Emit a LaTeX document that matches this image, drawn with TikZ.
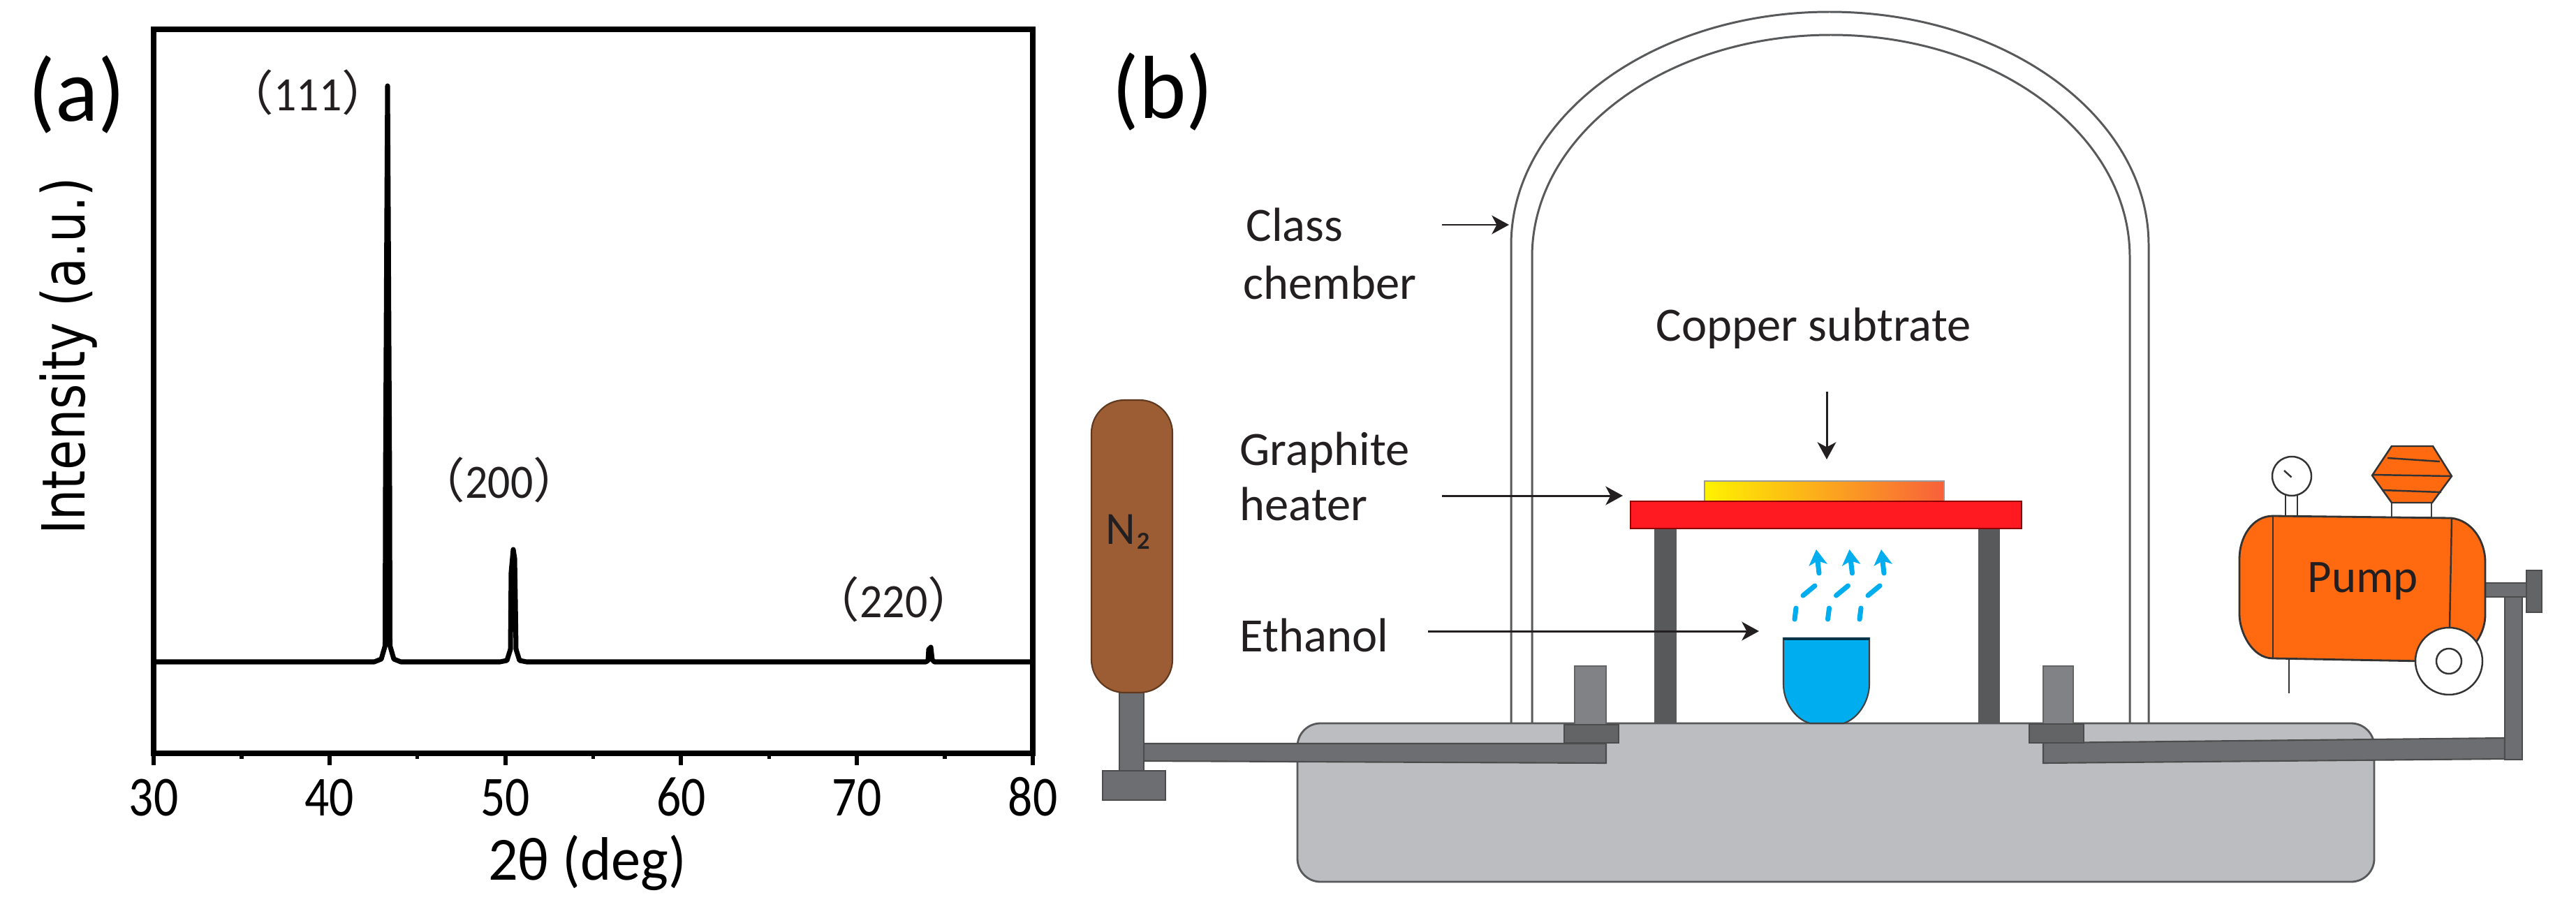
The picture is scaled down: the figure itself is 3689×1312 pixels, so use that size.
\documentclass[tikz,border=0pt]{standalone}
\usepackage{fontspec}
\usepackage{graphicx}
\setmainfont{Carlito}
\newfontfamily\cjk{Noto Sans CJK SC}
\newfontfamily\wideface{DejaVu Sans}
\usetikzlibrary{arrows.meta,shadings}
\definecolor{ink}{HTML}{231F20}
\definecolor{lineg}{HTML}{58595B}
\definecolor{baseg}{HTML}{BCBDC0}
\definecolor{pipeg}{HTML}{6D6E71}
\definecolor{postg}{HTML}{808285}
\definecolor{flangeg}{HTML}{636466}
\definecolor{legg}{HTML}{58595B}
\definecolor{tankbr}{HTML}{9C5D34}
\definecolor{pumpor}{HTML}{FF6A10}
\definecolor{heatred}{HTML}{FF1A22}
\definecolor{alcohol}{HTML}{00AEEF}
\definecolor{subl}{HTML}{FFF200}
\definecolor{subm}{HTML}{FF9A28}
\definecolor{subr}{HTML}{F8603A}
\newcommand{\squeeze}[2]{\scalebox{#1}[1]{#2}}
\begin{document}
\begin{tikzpicture}[
    x=0.01cm, y=-0.01cm,
    % plot
    frame/.style={line width=2.4pt, black},
    trace/.style={line width=2pt, black, line join=round},
    majortick/.style={line width=1.7pt, black},
    minortick/.style={line width=1.5pt, black},
    ticklab/.style={anchor=base, inner sep=0pt, black, font=\fontsize{23}{23}\selectfont},
    peaklab/.style={inner sep=0pt, ink, font=\fontsize{19.5}{20}\selectfont},
    panel/.style={inner sep=0pt, black, font=\fontsize{36.5}{38}\selectfont},
    % rig
    lab/.style={anchor=base west, inner sep=0pt, ink, font=\fontsize{19.5}{21}\selectfont},
    leader/.style={line width=0.85pt, ink, -{Stealth[length=7pt,width=7.6pt,inset=2pt]}},
    dome/.style={line width=0.85pt, lineg},
    pipe/.style={fill=pipeg, draw=black!70, line width=0.6pt},
    post/.style={fill=postg, draw=flangeg, line width=0.5pt},
    flange/.style={fill=flangeg, draw=black!70, line width=0.6pt},
    leg/.style={fill=legg, draw=legg, line width=0.4pt},
    vapor/.style={line width=2pt, alcohol, line cap=round},
    vaporup/.style={vapor, -{Stealth[length=6.3pt,width=7.4pt,inset=1.6pt]}},
    pumpline/.style={line width=0.7pt, black!80},
]
\useasboundingbox (0,0) rectangle (3689,1312);

% (a) XRD plot
\draw[frame] (220,42) rectangle (1479,1079);
\foreach \t in {0,...,5}
    \draw[majortick] (220+251.8*\t,1079) -- (220+251.8*\t,1096);
\foreach \t in {0,...,4}
    \draw[minortick] (345.9+251.8*\t,1079) -- (345.9+251.8*\t,1087);
\foreach \v/\t in {30/0,40/1,50/2,60/3,70/4,80/5}
    \node[ticklab] (tick\v) at (220+251.8*\t,1168) {\squeeze{.86}{\v}};
\node[anchor=base, inner sep=0pt, black, font=\fontsize{25}{25}\selectfont] (xlab) at (841,1260) {\squeeze{.96}{2θ (deg)}};
\node[anchor=base, inner sep=0pt, rotate=90, black, font=\wideface\fontsize{24.2}{25}\selectfont] (ylab) at (121,510) {\squeeze{.82}{Intensity (a.u.)}};

\draw[trace] (220,948) -- (536,948) -- (546,944) -- (551.5,925) -- (552,700) -- (554,300) -- (555,123)
    -- (556,300) -- (558,700) -- (558.5,925) -- (564,944) -- (574,948)
    -- (716,948) -- (726,946) -- (731,930) -- (732,820) -- (735,787) -- (737,800) -- (738,860) -- (739,930) -- (744,946) -- (754,948)
    -- (1326,948) -- (1329,946) -- (1330,930) -- (1333,927) -- (1335,945) -- (1338,948) -- (1479,948);

\node[peaklab] (p111) at (441,132) {{\cjk （}\squeeze{.93}{111}{\cjk ）}};
\node[peaklab] (p200) at (715,687) {{\cjk （}\squeeze{.93}{200}{\cjk ）}};
\node[peaklab] (p220) at (1280,858) {{\cjk （}\squeeze{.93}{220}{\cjk ）}};
\node[panel] (pa) at (110,135) {(a)};
\node[panel] (pb) at (1665,131) {(b)};

% (b) chamber
\draw[dome] (2164,1036) -- (2164,351) .. controls (2164,167) and (2368,17) .. (2620,17)
    .. controls (2872,17) and (3077,167) .. (3077,351) -- (3077,1036);
\draw[dome] (2194,1036) -- (2194,368) .. controls (2194,192) and (2386,50) .. (2622,50)
    .. controls (2858,50) and (3050,192) .. (3050,368) -- (3050,1036);

\draw[fill=baseg, draw=lineg, line width=0.8pt, rounded corners=3.3mm] (1858,1036) rectangle (3400,1263);

% left feed
\draw[post] (2255,954) rectangle (2300,1040);
\draw[pipe] (1638,1065) -- (2300,1065) -- (2300,1093) -- (1638,1090) -- cycle;
\draw[flange] (2240,1038) rectangle (2318,1064);
\draw[fill=pipeg, draw=black!70, line width=0.5pt] (1603,990) rectangle (1638,1104);
\draw[pipe] (1579,1104) rectangle (1669,1146);
\draw[fill=tankbr, draw=tankbr!60!black, line width=0.6pt, rounded corners=4.7mm] (1563,573) rectangle (1679,992);
\node[inner sep=0pt, ink, font=\fontsize{18.8}{20}\selectfont] (n2) at (1616,762) {N₂};

% right feed
\draw[post] (2926,954) rectangle (2969,1040);
\draw[pipe] (2926,1064) -- (3587,1057) -- (3587,1087) -- (2926,1093) -- cycle;
\draw[flange] (2906,1037) rectangle (2984,1064);
\draw[pipe] (3559,835) rectangle (3618,855);
\draw[pipe] (3587,855) rectangle (3612,1088);
\draw[flange] (3618,817) rectangle (3640,877);

% stand and heater
\draw[leg] (2370,757) rectangle (2400,1036);
\draw[leg] (2834,757) rectangle (2863,1036);
\draw[draw=black!40, line width=0.5pt, left color=subl, middle color=subm, right color=subr] (2441,689) rectangle (2784,718);
\draw[fill=heatred, draw=red!55!black, line width=0.5pt] (2335,718) rectangle (2895,757);

% ethanol cup
\draw[fill=alcohol, draw=black!75, line width=0.6pt] (2554,914) -- (2554,980)
    .. controls (2554,1005) and (2570,1030) .. (2592,1036) -- (2640,1036)
    .. controls (2660,1030) and (2677,1005) .. (2677,980) -- (2677,914) -- cycle;
\draw[line width=0.9pt, black!70!alcohol] (2554,915) -- (2677,915);

% vapour
\foreach \dx in {0,47.5,93}{
    \draw[vapor] (2570+\dx,887) -- (2572+\dx,871);
    \draw[vapor] (2582+\dx,853) -- (2599+\dx,839);
    \draw[vaporup] (2605+\dx,821) -- (2601+\dx,787);
}

% pump
\draw[pumpline] (3278,944) -- (3278,993);
\draw[fill=white, draw=black!75, line width=0.7pt] (3425,716) rectangle (3482,741);
\draw[fill=pumpor, draw=black!80, line width=0.7pt] (3425,639) -- (3484,639) -- (3511,682) -- (3483,720) -- (3425,720) -- (3397,681) -- cycle;
\draw[pumpline] (3419,656) -- (3494,661);
\draw[pumpline] (3398,680) -- (3510,682);
\draw[pumpline] (3411,702) -- (3496,705);
\draw[pumpline, fill=white] (3273,708) rectangle (3290,739);
\draw[pumpline, fill=white] (3282,682) circle (28);
\draw[pumpline] (3271,674) -- (3281.5,683.5);
\draw[fill=pumpor, draw=black!80, line width=0.8pt] (3255,739) -- (3510,742)
    .. controls (3540,745) and (3559,775) .. (3559,805) -- (3559,880)
    .. controls (3559,905) and (3545,925) .. (3530,935) -- (3470,947) -- (3255,943)
    .. controls (3225,943) and (3207,905) .. (3207,880) -- (3207,800)
    .. controls (3207,770) and (3225,739) .. (3255,739) -- cycle;
\draw[pumpline] (3255,739) -- (3255,943);
\draw[pumpline] (3511,742) -- (3508,900);
\draw[pumpline, fill=white] (3507,947) circle (48);
\draw[pumpline, fill=white] (3507,947) circle (18);
\node[inner sep=0pt, ink, font=\fontsize{19}{20}\selectfont] (pumplab) at (3384,832) {Pump};

% labels and leaders
\node[lab] (class1) at (1784,345) {Class};
\node[lab] (class2) at (1780,428) {chember};
\node[lab] (graph1) at (1775,666) {Graphite};
\node[lab] (graph2) at (1775,745) {heater};
\node[lab] (eth) at (1775,933) {Ethanol};
\node[lab, anchor=base] (copper) at (2597,488) {Copper subtrate};
\coordinate (classS) at (2065,322);
\coordinate (classE) at (2161,322);
\coordinate (heatS) at (2065,710);
\coordinate (heatE) at (2324,710);
\coordinate (ethS) at (2045,904);
\coordinate (ethE) at (2519,904);
\coordinate (copS) at (2616,561);
\coordinate (copE) at (2616,658);
\draw[leader] (classS) -- (classE);
\draw[leader] (heatS) -- (heatE);
\draw[leader] (ethS) -- (ethE);
\draw[leader] (copS) -- (copE);
\end{tikzpicture}
\end{document}
